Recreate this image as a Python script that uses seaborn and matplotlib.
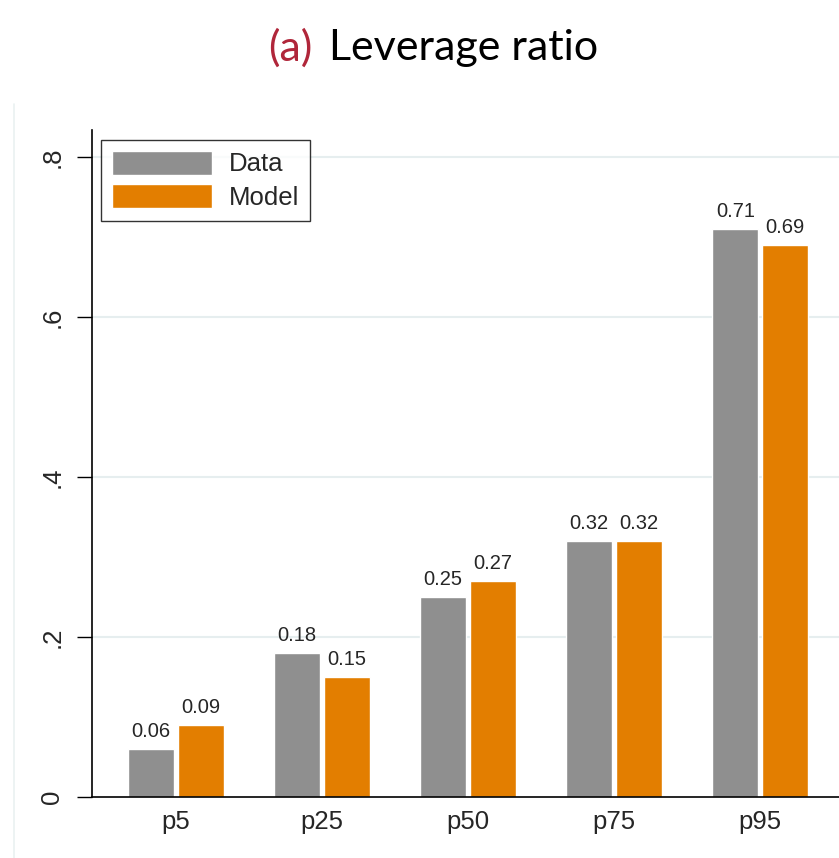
import matplotlib
matplotlib.use("Agg")
import matplotlib.pyplot as plt
import seaborn as sns
import pandas as pd
from matplotlib.lines import Line2D

categories = ["p5", "p25", "p50", "p75", "p95"]
data_vals = [0.06, 0.18, 0.25, 0.32, 0.71]
model_vals = [0.09, 0.15, 0.27, 0.32, 0.69]
series = ["Data", "Model"]
yticks = [0, 0.2, 0.4, 0.6, 0.8]
yticklabels = ["0", ".2", ".4", ".6", ".8"]

df = pd.DataFrame({
    "cat": categories * 2,
    "val": data_vals + model_vals,
    "series": ["Data"] * len(categories) + ["Model"] * len(categories),
})

sns.set_style("white")
plt.rcParams["font.family"] = ["Liberation Sans", "DejaVu Sans"]

W, H = 839, 858
fig = plt.figure(figsize=(W / 100, H / 100), dpi=100)

# faint outer frame (left edge only visible)
fig.add_artist(Line2D([14 / W, 14 / W], [0, 1 - 104 / H], transform=fig.transFigure,
                      color="#eaf1f1", linewidth=1.2))

ax_left, ax_right, ax_top, ax_bottom = 92, 839, 130, 797
ax = fig.add_axes([ax_left / W, 1 - ax_bottom / H, (ax_right - ax_left) / W, (ax_bottom - ax_top) / H])

palette = {"Data": "#8f8f8f", "Model": "#e37e00"}
sns.barplot(data=df, x="cat", y="val", hue="series", hue_order=series, order=categories,
            palette=palette, width=0.68, gap=0.07, saturation=1, ax=ax, legend=True)

for cont in ax.containers:
    ax.bar_label(cont, fmt="%.2f", padding=6, fontsize=14.5)

ax.set_xlim(-0.575, 4.54)
ax.set_ylim(0, 0.834)
ax.set_yticks(yticks)
ax.set_yticklabels(yticklabels, rotation=90, va="center", fontsize=18.5)
ax.tick_params(axis="y", which="major", direction="out", length=11, width=1.0, pad=9, left=True, color="black")
ax.tick_params(axis="x", length=0, pad=9, labelsize=18.5)
ax.set_xlabel("")
ax.set_ylabel("")
for y in yticks[1:]:
    ax.axhline(y, color="#e6eeef", linewidth=1.5, zorder=0)
ax.set_axisbelow(True)
for s in ["top", "right"]:
    ax.spines[s].set_visible(False)
for s in ["left", "bottom"]:
    ax.spines[s].set_color("black")
    ax.spines[s].set_linewidth(1.2)

axw, axh = ax_right - ax_left, ax_bottom - ax_top
leg = ax.legend(loc="upper left", bbox_to_anchor=(9 / axw, 1 - 10 / axh), borderaxespad=0,
                fontsize=18.5, handlelength=3.9, handleheight=1.05, handletextpad=0.65,
                labelspacing=0.3, borderpad=0.42, fancybox=False, frameon=True)
leg.get_frame().set_edgecolor("black")
leg.get_frame().set_linewidth(1.0)
leg.set_title(None)

# title in two colours
fig.text(312 / W, 1 - 48 / H, "(a)", color="#b0263a", fontsize=31, family=["Lato", "DejaVu Sans"],
         ha="right", va="center")
fig.text(329 / W, 1 - 48 / H, "Leverage ratio", color="black", fontsize=31,
         family=["Lato", "DejaVu Sans"], ha="left", va="center")

fig.savefig("out.png", dpi=100)
